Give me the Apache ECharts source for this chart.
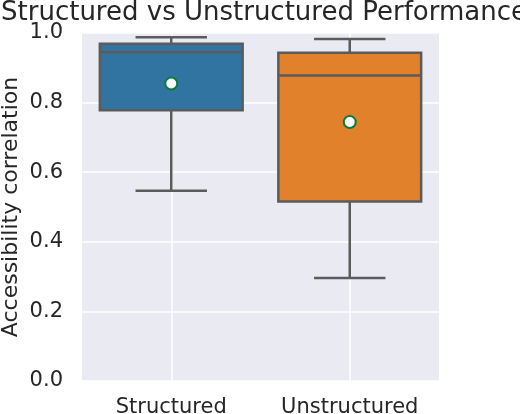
<!DOCTYPE html>
<html>
<head>
<meta charset="utf-8">
<script src="https://cdn.jsdelivr.net/npm/echarts@6/dist/echarts.min.js"></script>
<style>
html,body{margin:0;padding:0;background:#fff;}
#chart{width:520px;height:414px;}
</style>
</head>
<body>
<div id="chart"></div>
<script>
const categories = ['Structured', 'Unstructured'];
const whiskerLow = [0.547, 0.296];
const q1 = [0.778, 0.516];
const medians = [0.945, 0.878];
const q3 = [0.969, 0.943];
const whiskerHigh = [0.988, 0.983];
const means = [0.855, 0.744];
const boxColors = ['#3274a1', '#e1812c'];

const boxData = categories.map((c, i) => [i, whiskerLow[i], q1[i], medians[i], q3[i], whiskerHigh[i]]);
const meanData = categories.map((c, i) => [i, means[i]]);

const edge = '#5b5b5b';
const chart = echarts.init(document.getElementById('chart'), null, {renderer: 'canvas'});

chart.setOption({
  backgroundColor: '#ffffff',
  animation: false,
  title: {
    text: 'Structured vs Unstructured Performance',
    left: 259, textAlign: 'center',
    top: -5,
    textStyle: {fontFamily: 'DejaVu Sans', fontSize: 26, fontWeight: 'normal', color: '#262626'}
  },
  grid: {left: 82, right: 81, top: 33, bottom: 33, show: true, backgroundColor: '#eaeaf2', borderWidth: 0,
    containLabel: false, outerBoundsMode: 'none'},
  xAxis: {
    type: 'category',
    data: categories,
    axisLine: {show: false},
    axisTick: {show: false},
    axisLabel: {fontFamily: 'DejaVu Sans', fontSize: 21, color: '#262626', margin: 16, interval: 0, hideOverlap: false},
    splitLine: {show: true, alignWithLabel: true, interval: 0, lineStyle: {color: '#ffffff', width: 1.5}}
  },
  yAxis: {
    type: 'value',
    min: 0, max: 1, interval: 0.2,
    name: 'Accessibility correlation',
    nameLocation: 'middle',
    nameGap: 60,
    nameMoveOverlap: false,
    nameTextStyle: {fontFamily: 'DejaVu Sans', fontSize: 22, color: '#262626'},
    axisLine: {show: false},
    axisTick: {show: false},
    axisLabel: {fontFamily: 'DejaVu Sans', fontSize: 21, color: '#262626', margin: 19,
      formatter: v => v.toFixed(1)},
    splitLine: {show: true, lineStyle: {color: '#ffffff', width: 1.5}}
  },
  series: [
    {
      type: 'custom',
      data: boxData,
      z: 2,
      renderItem: function (params, api) {
        const idx = api.value(0);
        const bandW = api.size([1, 0])[0];
        const boxW = bandW * 0.8;
        const capW = boxW * 0.5;
        const pLo = api.coord([idx, api.value(1)]);
        const pQ1 = api.coord([idx, api.value(2)]);
        const pMed = api.coord([idx, api.value(3)]);
        const pQ3 = api.coord([idx, api.value(4)]);
        const pHi = api.coord([idx, api.value(5)]);
        const cx = pQ1[0];
        const ls = {stroke: edge, lineWidth: 2.5, fill: null};
        return {
          type: 'group',
          children: [
            {type: 'line', shape: {x1: cx, y1: pQ3[1], x2: cx, y2: pHi[1]}, style: ls},
            {type: 'line', shape: {x1: cx, y1: pQ1[1], x2: cx, y2: pLo[1]}, style: ls},
            {type: 'line', shape: {x1: cx - capW / 2, y1: pHi[1], x2: cx + capW / 2, y2: pHi[1]}, style: ls},
            {type: 'line', shape: {x1: cx - capW / 2, y1: pLo[1], x2: cx + capW / 2, y2: pLo[1]}, style: ls},
            {type: 'rect', shape: {x: cx - boxW / 2, y: pQ3[1], width: boxW, height: pQ1[1] - pQ3[1]},
              style: {fill: boxColors[idx], stroke: edge, lineWidth: 2.5}},
            {type: 'line', shape: {x1: cx - boxW / 2, y1: pMed[1], x2: cx + boxW / 2, y2: pMed[1]}, style: ls}
          ]
        };
      }
    },
    {
      type: 'scatter',
      data: meanData,
      z: 3,
      symbol: 'circle',
      symbolSize: 12,
      itemStyle: {color: '#ffffff', borderColor: '#0b7a3b', borderWidth: 2, opacity: 1}
    }
  ]
});
</script>
</body>
</html>
